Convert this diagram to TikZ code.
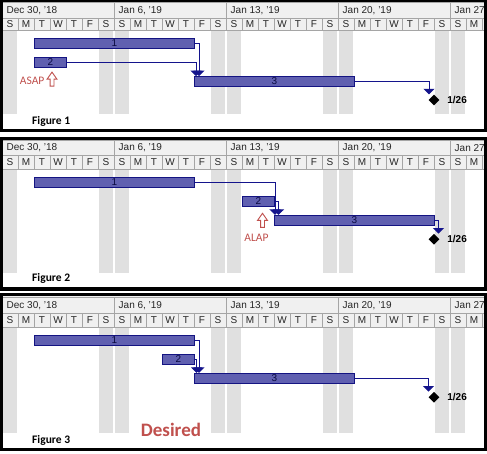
\documentclass[tikz,border=0pt]{standalone}
\usepackage{fontspec}
\setmainfont{Liberation Sans}
\newfontfamily\callfont{Carlito}
\usetikzlibrary{arrows.meta,positioning,shapes.geometric,shapes.arrows}
\definecolor{headgray}{RGB}{240,240,240}
\definecolor{gridgray}{RGB}{165,165,165}
\definecolor{offgray}{RGB}{224,224,224}
\definecolor{barfill}{RGB}{96,96,176}
\definecolor{barline}{RGB}{20,20,130}
\definecolor{linkblue}{RGB}{20,20,140}
\definecolor{notered}{RGB}{192,80,77}

\begin{document}
\begin{tikzpicture}[
x=1pt, y=-1pt,
panelframe/.style={draw=black, line width=3.3pt},
gridline/.style={draw=gridgray, line width=0.6pt},
weekend/.style={fill=offgray},
datelabel/.style={anchor=west, inner sep=0, font=\fontsize{10}{12}\selectfont, text=black!85},
daylabel/.style={inner sep=0, font=\fontsize{10}{12}\selectfont, text=black!85},
taskbar/.style={draw=barline, line width=0.8pt, fill=barfill, anchor=west, minimum height=10pt, inner sep=0, font=\fontsize{10}{10}\selectfont, text=barline!50!black},
link/.style={draw=linkblue, line width=1pt, -{Triangle[width=11pt,length=5.5pt]}},
milestone/.style={diamond, fill=black, minimum width=11pt, minimum height=11pt, inner sep=0},
msdate/.style={inner sep=0, font=\bfseries\fontsize{10}{12}\selectfont},
figlabel/.style={anchor=west, inner sep=0, font=\callfont\bfseries\fontsize{11.5}{13}\selectfont},
note/.style={inner sep=0, text=notered, font=\callfont\fontsize{11.5}{13}\selectfont},
hollowup/.style={single arrow, draw=notered, line width=0.9pt, shape border rotate=90, minimum height=14pt, minimum width=9pt, single arrow head extend=3pt, single arrow tip angle=70, inner sep=1.5pt}
]
\fill[white] (0,0) rectangle (487,453);
\useasboundingbox (0,0) rectangle (487,453);

% timescale panels
\foreach \p/\bt/\dt/\rt/\ct/\sb/\bb in {1/0.5/2.7/18/30.5/114/130.8, 2/138.8/140.7/155.5/169.5/273.3/289, 3/294.8/297/313.5/326.8/433/449.3}{
  \begin{scope}
    \clip (2.8,{\bt+1.6}) rectangle (483.8,{\bb-1.6});
    \fill[headgray] (0,\bt) rectangle (487,\ct);
    \foreach \d in {0,6,7,13,14,20,21,27,28}
      \fill[weekend] ({2.5+16*\d},\ct) rectangle ({16.5+16*\d},\sb);
    \draw[gridline] (0,\dt) -- (487,\dt) (0,\rt) -- (487,\rt) (0,\ct) -- (487,\ct);
    \foreach \w/\txt in {0/{Dec 30, '18},1/{Jan 6, '19},2/{Jan 13, '19},3/{Jan 20, '19},4/{Jan 27}}{
      \draw[gridline] ({2+112*\w},\dt) -- ({2+112*\w},\rt);
      \node[datelabel] (date\p-\w) at ({6.5+112*\w},{(\dt+\rt)/2}) {\txt};
      \foreach \l [count=\i from 0] in {S,M,T,W,T,F,S}{
        \pgfmathtruncatemacro\dd{7*\w+\i}
        \ifnum\dd<31
          \draw[gridline] ({2+112*\w+16*\i},\rt) -- ({2+112*\w+16*\i},\ct);
        \fi
        \ifnum\dd<30
          \node[daylabel] (day\p-\w-\i) at ({10+112*\w+16*\i},{(\rt+\ct)/2}) {\l};
        \fi
      }
    }
  \end{scope}
  \draw[panelframe] (1.2,\bt) rectangle (485.5,\bb);
}

% Figure 1
\node[taskbar, minimum width=160pt] (p1b1) at (34,43.2) {1};
\node[taskbar, minimum width=32pt] (p1b2) at (34,62.3) {2};
\node[taskbar, minimum width=160pt] (p1b3) at (194,81.4) {3};
\node[milestone] (p1ms) at (434,100) {};
\node[msdate, right=7.5pt of p1ms] (p1date) {1/26};
\draw[link] (p1b1.east) -| ([xshift=5pt]p1b3.north west);
\draw[link] (p1b2.east) -| ([xshift=2pt]p1b3.north west);
\draw[link] (p1b3.east) -| ([xshift=-5pt]p1ms.north);
\node[hollowup] (asaparrow) at (52,80.5) {};
\node[note, left=5pt of asaparrow] (asap) {ASAP};
\node[figlabel] (fig1) at (32,121) {Figure 1};

% Figure 2
\node[taskbar, minimum width=160pt] (p2b1) at (34,182.5) {1};
\node[taskbar, minimum width=32pt] (p2b2) at (242,201.3) {2};
\node[taskbar, minimum width=160pt] (p2b3) at (274,220.3) {3};
\node[milestone] (p2ms) at (434,239.3) {};
\node[msdate, right=7.5pt of p2ms] (p2date) {1/26};
\draw[link] (p2b1.east) -| ([xshift=1pt]p2b3.north west);
\draw[link] (p2b2.east) -| ([xshift=4.5pt]p2b3.north west);
\draw[link] (p2b3.east) -| ([xshift=4.5pt]p2ms.north);
\node[hollowup] (alaparrow) at (262.5,221.7) {};
\node[note, below=6pt of alaparrow, xshift=-6pt] (alap) {ALAP};
\node[figlabel] (fig2) at (32,278.5) {Figure 2};

% Figure 3
\node[taskbar, minimum width=160pt] (p3b1) at (34,340.5) {1};
\node[taskbar, minimum width=32pt] (p3b2) at (162,359) {2};
\node[taskbar, minimum width=160pt] (p3b3) at (194,378.2) {3};
\node[milestone] (p3ms) at (434,397.3) {};
\node[msdate, right=7.5pt of p3ms] (p3date) {1/26};
\draw[link] (p3b1.east) -| ([xshift=5pt]p3b3.north west);
\draw[link] (p3b2.east) -| ([xshift=2.5pt]p3b3.north west);
\draw[link] (p3b3.east) -| ([xshift=-5.5pt]p3ms.north);
\node[note, font=\callfont\bfseries\fontsize{19}{22}\selectfont] (desired) at (171,430) {Desired};
\node[figlabel] (fig3) at (32,440) {Figure 3};
\end{tikzpicture}
\end{document}
